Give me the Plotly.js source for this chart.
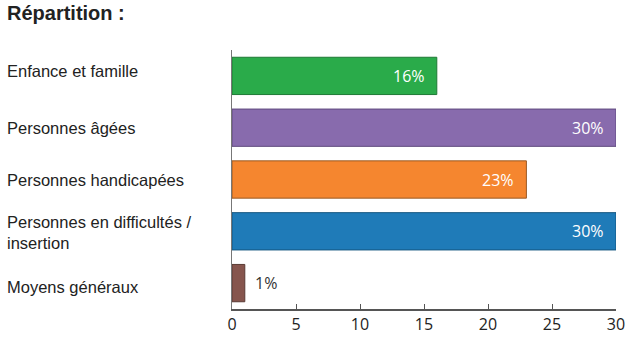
<!DOCTYPE html>
<html><head><meta charset="utf-8">
<script src="https://cdn.plot.ly/plotly-3.0.1.min.js"></script>
<style>body{margin:0;background:#fff}#c{width:630px;height:350px}</style>
</head><body><div id="c"></div>
<script>
const categories = ["Enfance et famille", "Personnes âgées", "Personnes handicapées", "Personnes en difficultés /<br>insertion", "Moyens généraux"];
const values = [16, 30, 23, 30, 1];
const labels = ["16%", "30%", "23%", "30%", "1%"];
const colors = ["#2aab4a", "#886bad", "#f5862f", "#1f7bb8", "#86554d"];
const borders = ["#1e7a35", "#5f4a7e", "#9a5a25", "#155780", "#5a3a34"];
const ticks = [0, 5, 10, 15, 20, 25, 30];
// small vertical nudges of the category labels (style only)
const labelShift = [5, 0, 0, -1, -4];

const ids = categories.map((c, i) => i);

const trace = {
  type: "bar", orientation: "h",
  x: values, y: ids,
  marker: {color: colors, line: {color: borders, width: 1}},
  hoverinfo: "none", width: 0.72
};

const annotations = [];
categories.forEach((c, i) => {
  annotations.push({
    xref: "paper", yref: "y", x: -0.59, y: i, yshift: labelShift[i], text: c, showarrow: false,
    xanchor: "left", yanchor: "middle", align: "left",
    font: {family: "Liberation Sans, Arial, sans-serif", size: 16.5, color: "#222"}
  });
  const inside = values[i] > 3;
  annotations.push({
    xref: "x", yref: "y", x: values[i], y: i, text: labels[i], showarrow: false,
    xanchor: inside ? "right" : "left", yanchor: "middle",
    xshift: inside ? -10 : 8,
    font: {family: "Open Sans, Noto Sans, sans-serif", size: 16, color: inside ? "#ffffff" : "#333"}
  });
});
annotations.push({
  xref: "paper", yref: "paper", x: -0.59, y: 1, yshift: 37, text: "<b>Répartition :</b>",
  showarrow: false, xanchor: "left", yanchor: "middle",
  font: {family: "Liberation Sans, Arial, sans-serif", size: 20, color: "#222"}
});

const layout = {
  width: 630, height: 350,
  margin: {l: 232, r: 14, t: 50, b: 41},
  paper_bgcolor: "#fff", plot_bgcolor: "#fff",
  showlegend: false,
  xaxis: {
    range: [0, 30], tickvals: ticks, ticktext: ticks.map(String),
    showgrid: false, zeroline: false, showline: true, linecolor: "#555", linewidth: 1.5,
    ticks: "inside", ticklen: 5, tickcolor: "#555", tickwidth: 1,
    tickfont: {family: "Open Sans, Noto Sans, sans-serif", size: 16, color: "#222"},
    fixedrange: true
  },
  yaxis: {
    range: [4.5, -0.5], showticklabels: false, showgrid: false, zeroline: false,
    showline: true, linecolor: "#777", linewidth: 1.5, ticks: "", fixedrange: true
  },
  annotations: annotations
};

Plotly.newPlot("c", [trace], layout, {displayModeBar: false, staticPlot: true});
</script></body></html>
